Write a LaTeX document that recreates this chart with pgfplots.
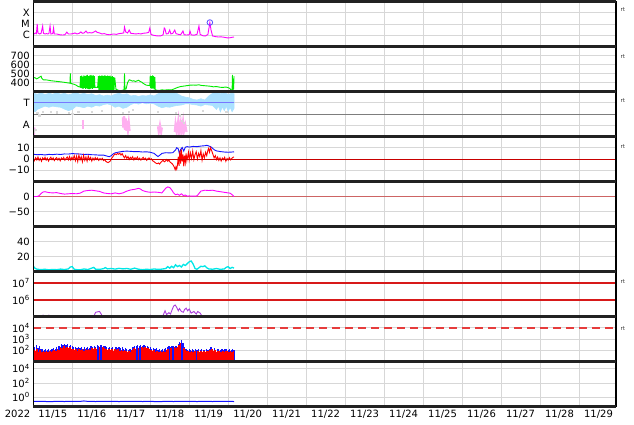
\documentclass[border=0pt]{standalone}
\usepackage{fontspec}
\setmainfont{DejaVu Sans}
\usepackage{pgfplots}
\pgfplotsset{compat=1.18}
\definecolor{cMag}{RGB}{255,0,255}
\definecolor{cGreen}{RGB}{0,235,0}
\definecolor{cBlue}{RGB}{20,20,255}
\definecolor{cRed}{RGB}{255,0,0}
\definecolor{cCyan}{RGB}{0,230,230}
\definecolor{cPurple}{RGB}{170,60,220}
\definecolor{cLB}{RGB}{170,225,255}
\definecolor{cPink}{RGB}{255,175,240}
\definecolor{cTline}{RGB}{120,120,255}
\definecolor{cDRed}{RGB}{200,0,0}
\definecolor{cRefR}{RGB}{215,25,25}
\definecolor{cDash}{RGB}{230,60,60}
\definecolor{cSep}{RGB}{125,125,125}
\definecolor{cZero}{RGB}{205,100,100}
\definecolor{cFrame}{RGB}{34,34,34}
\definecolor{cGrid}{RGB}{215,215,215}
\definecolor{cCirc}{RGB}{80,80,255}
\newcommand{\tf}{\fontsize{10}{12}\selectfont}
\newcommand{\rtf}{\fontsize{5.5}{6.5}\selectfont}
\pgfplotsset{
  panel/.style={
    scale only axis, width=582.7pt, height=45pt, anchor=south west,
    xmin=0, xmax=14.95,
    xtick={0.5,1.5,...,14.5}, xticklabels={},
    minor xtick={1,2,...,14},
    xminorgrids=true, ymajorgrids=true,
    major tick length=0pt, minor tick length=0pt,
    grid style={draw=cGrid, line width=0.6pt},
    minor grid style={draw=cGrid, line width=0.6pt},
    axis line style={draw=none},
    tick label style={font=\tf, text=black},
    after end axis/.code={
      \draw[line width=1.2pt, black] (rel axis cs:0,0) -- (rel axis cs:0,1);
      \draw[line width=1.2pt, black] (rel axis cs:1,0) -- (rel axis cs:1,1);
      \draw[line width=2.6pt, cFrame] (rel axis cs:0,0) -- (rel axis cs:1,0);
      \draw[line width=2.6pt, cFrame] (rel axis cs:0,1) -- (rel axis cs:1,1);
    },
  },
  rt/.style={after end axis/.append code={
      \node[anchor=west, inner sep=0pt, font=\rtf, text=black!80] at ([xshift=4.5pt]rel axis cs:1,#1) {rt};}},
  hline/.style 2 args={before end axis/.append code={
      \draw[#2] (rel axis cs:0,#1) -- (rel axis cs:1,#1);}},
}
\begin{document}
\begin{tikzpicture}
\useasboundingbox (0,0) rectangle (634pt,424pt);

% ---------- Panel 1: X-ray flux ----------
\begin{axis}[panel, rt=0.81, at={(33.3pt,377.5pt)}, ymode=log, ymin=1e-7, ymax=1e-3,
  ytick={1e-6,1e-5,1e-4}, yticklabels={C,M,X}]
\addplot[cMag, line width=0.9pt] coordinates {
(0.00,1.6e-6) (0.02,1.3e-6) (0.05,1.6e-6) (0.08,1.4e-6) (0.10,1.0e-5) (0.12,1.6e-6) (0.16,1.3e-6) (0.2,1.5e-6) (0.24,6.6e-6) (0.26,1.5e-6) (0.30,1.3e-6) (0.34,1.4e-6) (0.37,1.3e-6) (0.40,1.4e-6) (0.43,6.6e-6) (0.45,1.3e-6) (0.5,1.4e-6) (0.52,4.4e-6) (0.54,1.3e-6) (0.6,1.3e-6) (0.68,1.1e-6) (0.75,1.05e-6) (0.81,1.1e-6) (0.86,1.9e-6) (0.9,1.3e-6) (0.96,1.3e-6) (1.02,1.4e-6) (1.07,1.6e-6) (1.12,1.3e-6) (1.18,1.5e-6) (1.22,2.0e-6) (1.26,1.5e-6) (1.3,1.6e-6) (1.35,2.4e-6) (1.39,1.6e-6) (1.45,1.7e-6) (1.5,1.6e-6) (1.55,1.9e-6) (1.6,2.4e-6) (1.64,1.8e-6) (1.7,1.6e-6) (1.76,1.3e-6) (1.82,1.4e-6) (1.88,1.2e-6) (1.95,1.1e-6) (2.0,1.2e-6) (2.07,1.3e-6) (2.13,1.2e-6) (2.2,1.4e-6) (2.27,1.5e-6) (2.32,1.6e-6) (2.34,5.4e-6) (2.37,2.0e-6) (2.42,1.6e-6) (2.46,2.9e-6) (2.5,1.5e-6) (2.56,1.4e-6) (2.63,1.3e-6) (2.7,1.4e-6) (2.76,1.3e-6) (2.82,1.5e-6) (2.9,1.6e-6) (2.96,1.8e-6) (2.99,4.4e-6) (3.02,1.2e-6) (3.08,1.0e-6) (3.15,9e-7) (3.22,8.6e-7) (3.28,9e-7) (3.33,1.1e-6) (3.36,4.4e-6) (3.38,3.6e-6) (3.41,1.3e-6) (3.46,1.4e-6) (3.5,2.9e-6) (3.53,1.3e-6) (3.58,1.5e-6) (3.63,2.9e-6) (3.66,1.4e-6) (3.72,1.2e-6) (3.78,1.1e-6) (3.84,2.4e-6) (3.87,1.1e-6) (3.93,1.05e-6) (4.0,1.1e-6) (4.02,2.4e-6) (4.05,1.1e-6) (4.12,1.0e-6) (4.2,1.2e-6) (4.25,6.6e-6) (4.28,1.2e-6) (4.35,9e-7) (4.42,8.6e-7) (4.48,1.2e-6) (4.53,1.36e-5) (4.56,2.9e-6) (4.6,8.6e-7) (4.68,7.5e-7) (4.75,7e-7) (4.82,7.2e-7) (4.9,6.6e-7) (4.98,5.8e-7) (5.05,6e-7) (5.1,6.6e-7) (5.15,7e-7)};
\addplot[only marks, mark=o, mark size=2.8pt, cCirc, line width=0.8pt] coordinates {(4.53,1.36e-5)};
\end{axis}

% ---------- Panel 2: speed ----------
\begin{axis}[panel, rt=0.77, at={(33.3pt,332.5pt)}, ymin=300, ymax=800,
  ytick={400,500,600,700}, yticklabels={400,500,600,700}]
\addplot[cGreen, line width=0.9pt] coordinates {
(0,450) (0.04,455) (0.08,440) (0.12,448) (0.16,460) (0.2,470) (0.22,445) (0.26,430) (0.35,428) (0.45,420) (0.55,415) (0.65,410) (0.75,405) (0.85,398) (0.9,395) (0.94,392) (0.95,500) (0.96,390) (1.0,385) (1.05,380) (1.1,370) (1.15,355) (1.2,350)
(1.21,470) (1.22,340) (1.24,475) (1.25,335) (1.27,465) (1.28,330) (1.3,480) (1.31,340) (1.33,470) (1.34,330) (1.36,480) (1.37,335) (1.39,485) (1.40,330) (1.42,470) (1.43,325) (1.45,480) (1.46,330) (1.48,485) (1.49,335) (1.51,475) (1.52,330) (1.54,480) (1.55,340) (1.57,470) (1.58,345)
(1.62,347) (1.65,345)
(1.67,470) (1.68,315) (1.70,475) (1.71,310) (1.73,470) (1.74,312) (1.76,478) (1.77,310) (1.79,472) (1.80,308) (1.82,480) (1.83,310) (1.85,475) (1.86,312) (1.88,470) (1.89,310) (1.91,480) (1.92,308) (1.94,470) (1.95,310) (1.97,475) (1.98,312) (2.0,465) (2.01,310) (2.03,470) (2.04,312) (2.06,460) (2.07,315) (2.09,455)
(2.12,325) (2.16,318) (2.2,312) (2.25,310) (2.3,315) (2.33,320) (2.34,500) (2.35,325) (2.38,328) (2.42,400) (2.46,430) (2.5,425) (2.54,415) (2.58,420) (2.62,410) (2.66,418) (2.7,425) (2.74,412) (2.78,405) (2.82,390) (2.86,380) (2.9,370) (2.95,368) (2.99,365)
(3.0,475) (3.01,340) (3.03,470) (3.04,330) (3.06,478) (3.07,335) (3.09,470) (3.1,325) (3.12,460) (3.13,320)
(3.17,315) (3.22,312) (3.3,318) (3.38,316) (3.46,320) (3.55,318) (3.62,330) (3.7,345) (3.78,355) (3.86,360) (3.94,365) (4.02,370) (4.1,372) (4.18,370) (4.25,375) (4.3,368) (4.38,365) (4.46,362) (4.55,358) (4.62,352) (4.7,355) (4.78,348) (4.86,345) (4.94,350) (5.0,342) (5.04,335) (5.07,318) (5.1,315) (5.11,485) (5.12,320) (5.14,330) (5.15,470)};
\end{axis}

% ---------- Panel 3: T / A ----------
\begin{axis}[panel, rt=0.79, at={(33.3pt,287.5pt)}, ymin=-0.5, ymax=1.5,
  ytick={0,1}, yticklabels={A,T}, hline={0.5}{draw=cSep, line width=0.8pt}]
\addplot[fill=cLB, draw=cLB, line width=0.6pt] coordinates {
(0,1.42) (0.1,1.38) (0.2,1.44) (0.3,1.36) (0.4,1.42) (0.5,1.38) (0.6,1.45) (0.7,1.38) (0.8,1.42) (0.9,1.35) (1.0,1.4) (1.1,1.44) (1.2,1.38) (1.3,1.42) (1.4,1.36) (1.5,1.4) (1.6,1.32) (1.7,1.36) (1.8,1.3) (1.9,1.34) (2.0,1.3) (2.1,1.38) (2.2,1.42) (2.3,1.36) (2.4,1.4) (2.5,1.3) (2.6,1.33) (2.7,1.28) (2.8,1.32) (2.9,1.3) (3.0,1.35) (3.1,1.3) (3.2,1.4) (3.3,1.46) (3.4,1.42) (3.5,1.48) (3.6,1.44) (3.7,1.4) (3.8,1.3) (3.9,1.25) (4.0,1.22) (4.1,1.15) (4.2,1.12) (4.3,1.18) (4.4,1.12) (4.5,1.3) (4.6,1.42) (4.7,1.45) (4.8,1.4) (4.9,1.44) (5.0,1.38) (5.1,1.42) (5.15,1.4)
(5.15,0.75) (5.1,0.6) (5.05,0.8) (5.0,0.62) (4.95,0.85) (4.9,0.65) (4.85,0.82) (4.8,0.6) (4.75,0.85) (4.7,0.7) (4.6,0.88) (4.5,0.9) (4.4,0.92) (4.3,0.85) (4.2,0.9) (4.1,0.92) (4.0,0.95) (3.9,0.95) (3.8,0.9) (3.7,0.88) (3.6,0.85) (3.5,0.8) (3.4,0.82) (3.3,0.78) (3.2,0.85) (3.1,0.95) (3.0,0.98) (2.9,0.95) (2.8,1.0) (2.7,0.94) (2.6,0.98) (2.5,0.92) (2.4,0.8) (2.3,0.75) (2.2,0.85) (2.1,0.8) (2.0,0.9) (1.9,0.95) (1.8,0.92) (1.7,0.85) (1.6,0.88) (1.5,0.8) (1.4,0.85) (1.3,0.78) (1.2,0.82) (1.1,0.85) (1.0,0.7) (0.9,0.65) (0.8,0.72) (0.7,0.8) (0.6,0.82) (0.5,0.85) (0.4,0.8) (0.3,0.85) (0.2,0.78) (0.1,0.7) (0.05,0.6) (0,0.65)};
\addplot[only marks, mark=square*, mark size=0.6pt, draw=gray!30, fill=gray!30] coordinates {
(0.1,0.55) (0.15,0.45) (0.25,0.6) (0.45,0.62) (0.6,0.58) (0.9,0.55) (1.0,0.5) (1.15,0.62) (1.5,0.6) (1.75,0.65) (2.3,0.55) (2.45,0.62) (2.55,0.7) (3.2,0.6) (3.65,0.55) (3.75,0.45) (3.8,0.2) (3.85,0.1) (4.35,0.65) (4.95,0.6) (0.02,-0.3) (0.05,-0.2)};
\addplot[draw=cTline, line width=1.3pt] coordinates {(0,1) (5.15,1)};
\addplot[cPink, line width=2.2pt] coordinates {(0.0,-0.15) (0.02,-0.3) (0.03,-0.1)};
\addplot[cPink, line width=2.2pt] coordinates {(1.27,0.25) (1.27,-0.15)};
\addplot[cPink, line width=2.2pt] coordinates {(2.3,0.35) (2.31,-0.1) (2.33,0.4) (2.35,-0.2) (2.37,0.3) (2.39,-0.25) (2.41,0.2) (2.43,-0.2) (2.45,0.1) (2.47,-0.25)};
\addplot[cPink, line width=2.2pt] coordinates {(3.2,-0.05) (3.22,-0.3) (3.25,0.0) (3.28,-0.3) (3.3,-0.1)};
\addplot[cPink, line width=2.2pt] coordinates {(3.63,-0.3) (3.65,0.05) (3.68,-0.3) (3.72,0.2) (3.74,-0.3) (3.78,0.1) (3.8,-0.32) (3.84,0.15) (3.86,-0.3) (3.9,0.0) (3.93,-0.3)};
\end{axis}

% ---------- Panel 4: Bt / Bz ----------
\begin{axis}[panel, rt=0.77, at={(33.3pt,242.5pt)}, ymin=-20, ymax=20,
  ytick={-10,0,10}, yticklabels={−10,0,10}, hline={0.5}{draw=cDRed, line width=1.0pt}]
\addplot[cBlue, line width=0.9pt] coordinates {
(0,4.2) (0.1,3.8) (0.2,4.0) (0.3,3.6) (0.4,4.1) (0.5,3.9) (0.6,4.3) (0.7,4.0) (0.8,4.5) (0.9,4.4) (1.0,4.8) (1.1,4.6) (1.2,4.4) (1.3,4.0) (1.4,4.2) (1.5,3.8) (1.6,3.7) (1.7,3.4) (1.8,3.5) (1.9,2.5) (1.95,2.0) (2.0,3.0) (2.05,4.5) (2.1,5.5) (2.2,6.2) (2.3,6.8) (2.4,7.0) (2.5,6.8) (2.6,6.5) (2.7,6.6) (2.8,6.2) (2.9,6.4) (3.0,6.0) (3.1,5.0) (3.15,3.5) (3.2,2.2) (3.25,3.5) (3.3,5.0) (3.4,5.6) (3.5,5.4) (3.58,5.6) (3.65,8.0) (3.68,10.0) (3.72,9.0) (3.75,4.5) (3.78,8.5) (3.82,10.2) (3.86,7.0) (3.9,10.5) (3.95,11.0) (4.0,10.6) (4.1,11.2) (4.2,11.0) (4.3,11.5) (4.4,11.8) (4.45,12.2) (4.5,11.6) (4.55,11.0) (4.6,9.5) (4.65,8.0) (4.7,7.2) (4.8,6.6) (4.9,6.2) (5.0,6.0) (5.1,6.2) (5.15,6.4)};
\addplot[cRed, line width=0.9pt] coordinates {
(0,0.5) (0.03,-1.5) (0.06,1.2) (0.09,-0.8) (0.12,1.8) (0.15,-1.2) (0.18,0.6) (0.21,-2.0) (0.24,1.0) (0.27,-0.5) (0.3,1.5) (0.33,-1.0) (0.36,0.8) (0.39,-1.8) (0.42,0.3) (0.45,1.6) (0.48,-0.6) (0.51,1.0) (0.54,-1.4) (0.57,0.4) (0.6,1.2) (0.63,-0.9) (0.66,0.7) (0.69,-1.6) (0.72,0.9) (0.75,-0.3) (0.78,1.4) (0.81,-1.1) (0.84,0.5) (0.87,1.8) (0.9,-0.7) (0.93,2.2) (0.96,-1.0) (0.99,1.5) (1.02,-0.4) (1.05,3.0) (1.08,-1.5) (1.11,2.5) (1.14,-2.2) (1.17,3.5) (1.2,-0.8) (1.23,2.0) (1.26,-2.5) (1.29,3.2) (1.32,-1.2) (1.35,1.8) (1.38,-2.0) (1.41,2.6) (1.44,-0.6) (1.47,1.4) (1.5,-1.8) (1.53,0.8) (1.56,-1.0) (1.59,1.2) (1.62,-0.5) (1.65,0.9) (1.68,-1.2) (1.71,0.4) (1.74,-0.8) (1.77,0.6) (1.8,-1.4) (1.83,-0.5) (1.86,-2.0) (1.89,-2.8) (1.92,-3.2) (1.95,-2.5) (1.98,-1.5) (2.01,0.5) (2.04,2.0) (2.07,3.5) (2.1,4.5) (2.13,3.8) (2.16,5.0) (2.19,4.2) (2.22,5.2) (2.25,3.5) (2.28,4.8) (2.31,2.5) (2.34,1.0) (2.37,3.0) (2.4,0.5) (2.43,2.2) (2.46,-0.5) (2.49,1.5) (2.52,0.2) (2.55,2.0) (2.58,-0.8) (2.61,1.2) (2.64,0.0) (2.67,1.8) (2.7,-0.6) (2.73,0.8) (2.76,-1.0) (2.79,0.5) (2.82,1.5) (2.85,-0.4) (2.88,0.8) (2.91,-1.2) (2.94,0.3) (2.97,1.0) (3.0,-0.5) (3.03,0.2) (3.06,-1.5) (3.09,-2.2) (3.12,-3.0) (3.15,-3.8) (3.18,-4.2) (3.21,-3.5) (3.24,-4.5) (3.27,-3.0) (3.3,-2.0) (3.33,-1.0) (3.36,-2.5) (3.39,-1.8) (3.42,-0.5) (3.45,-2.0) (3.48,-1.0) (3.51,-2.8) (3.54,-3.5) (3.57,-4.5) (3.6,-6.0) (3.62,-7.5) (3.64,-9.5) (3.66,-7.0) (3.68,-9.0) (3.7,-5.0) (3.72,2.0) (3.74,-6.0) (3.76,7.5) (3.78,-4.0) (3.8,8.5) (3.82,-2.0) (3.84,4.0) (3.86,-6.5) (3.88,3.0) (3.9,-3.0) (3.92,5.0) (3.94,-1.5) (3.96,2.0) (3.98,6.0) (4.0,-1.0) (4.03,5.5) (4.06,0.5) (4.09,7.0) (4.12,-0.5) (4.15,4.0) (4.18,6.5) (4.21,0.0) (4.24,5.0) (4.27,2.0) (4.3,7.5) (4.33,-1.0) (4.36,4.5) (4.39,1.0) (4.42,6.0) (4.45,3.0) (4.48,8.0) (4.5,9.5) (4.52,6.0) (4.55,10.0) (4.58,7.0) (4.61,4.0) (4.64,1.0) (4.67,3.0) (4.7,-0.5) (4.73,1.8) (4.76,-1.2) (4.79,1.0) (4.82,-1.8) (4.85,0.8) (4.88,-0.6) (4.91,1.5) (4.94,-2.0) (4.97,0.5) (5.0,-1.0) (5.03,1.2) (5.06,-0.8) (5.09,0.5) (5.12,1.5) (5.15,1.8)};
\end{axis}

% ---------- Panel 5 ----------
\begin{axis}[panel, at={(33.3pt,197.5pt)}, ymin=-100, ymax=50,
  ytick={-50,0}, yticklabels={−50,0}]
\addplot[draw=cZero, line width=1.8pt] coordinates {(0,0) (14.95,0)};
\addplot[cMag, line width=0.9pt] coordinates {
(0,0) (0.1,0) (0.15,3) (0.2,10) (0.25,15) (0.3,16) (0.4,13) (0.5,12) (0.6,13) (0.7,10) (0.8,8) (0.9,9) (1.0,10) (1.1,9) (1.2,11) (1.3,18) (1.4,20) (1.5,21) (1.6,19) (1.7,17) (1.8,12) (1.9,10) (2.0,9) (2.1,12) (2.2,9) (2.3,12) (2.4,18) (2.5,22) (2.6,24) (2.7,27) (2.75,25) (2.8,20) (2.9,16) (3.0,14) (3.1,15) (3.2,14) (3.3,12) (3.35,20) (3.4,28) (3.45,32) (3.5,30) (3.55,22) (3.6,12) (3.65,6) (3.7,8) (3.75,4) (3.8,9) (3.85,3) (3.9,5) (3.95,1) (4.0,2) (4.1,1) (4.2,2) (4.25,10) (4.3,18) (4.4,21) (4.5,20) (4.6,21) (4.7,18) (4.8,16) (4.9,14) (5.0,12) (5.05,11) (5.1,6) (5.15,0)};
\end{axis}

% ---------- Panel 6 ----------
\begin{axis}[panel, at={(33.3pt,152.5pt)}, ymin=0, ymax=60,
  ytick={20,40}, yticklabels={20,40}]
\addplot[cCyan, line width=1.3pt] coordinates {
(0,7) (0.05,4) (0.1,3) (0.2,2.5) (0.3,3) (0.4,2.2) (0.5,2.8) (0.6,2.4) (0.7,3.2) (0.8,2.6) (0.9,3.5) (0.95,6) (1.0,6.5) (1.05,3) (1.1,2.5) (1.2,2.2) (1.3,3.4) (1.4,2.6) (1.5,4.5) (1.55,5.5) (1.6,3) (1.7,2.8) (1.8,3.8) (1.85,5.2) (1.9,3.5) (2.0,4.0) (2.1,3.2) (2.2,4.2) (2.3,3.5) (2.4,4.0) (2.5,3.0) (2.6,4.5) (2.7,3.0) (2.8,2.4) (2.9,3.0) (3.0,2.6) (3.1,3.4) (3.2,2.8) (3.3,3.2) (3.4,4.0) (3.45,6.5) (3.5,4.5) (3.55,7) (3.6,5) (3.65,9) (3.7,6.5) (3.75,8) (3.8,6) (3.85,9.5) (3.9,8) (3.95,10.5) (4.0,13) (4.05,14) (4.1,10) (4.15,4) (4.2,3) (4.25,5) (4.3,7) (4.35,6.5) (4.4,7.5) (4.45,5) (4.5,3.5) (4.6,3.0) (4.7,4.0) (4.8,2.8) (4.9,3.5) (4.95,5.5) (5.0,6.5) (5.05,4) (5.1,5.5) (5.15,4.5)};
\end{axis}

% ---------- Panel 7 ----------
\begin{axis}[panel, rt=0.77, at={(33.3pt,107.5pt)}, ymode=log, ymin=1e5, ymax=5e7,
  ytick={1e6,1e7}, yticklabels={10\textsuperscript{6},10\textsuperscript{7}}, ymajorgrids=false,
  hline={0.741}{draw=cRefR, line width=1.5pt}, hline={0.3705}{draw=cRefR, line width=1.5pt}]
\addplot[cPurple, line width=0.9pt] coordinates {
(0,7e4) (0.2,8e4) (0.25,1.2e5) (0.3,8e4) (0.4,1.2e5) (0.45,8e4) (0.7,7e4) (1.0,6e4) (1.4,7e4) (1.55,1.0e5) (1.6,1.8e5) (1.7,2.0e5) (1.75,1.3e5) (1.8,8e4) (2.2,6e4) (2.6,7e4) (2.95,9e4) (3.0,1.2e5) (3.05,9e4) (3.3,8e4) (3.35,1.5e5) (3.38,2.2e5) (3.42,1.3e5) (3.48,1.7e5) (3.52,1.4e5) (3.56,2.5e5) (3.6,4.2e5) (3.64,4.9e5) (3.68,3.5e5) (3.72,2.2e5) (3.75,3.0e5) (3.8,2.0e5) (3.85,1.8e5) (3.88,2.6e5) (3.92,3.2e5) (3.96,2.2e5) (4.0,2.8e5) (4.05,1.6e5) (4.12,2.0e5) (4.18,1.4e5) (4.22,2.0e5) (4.28,1.6e5) (4.35,9e4) (4.45,1.1e5) (4.55,8e4) (4.7,7e4) (4.85,1.05e5) (4.9,8e4) (5.0,1.05e5) (5.1,8e4) (5.15,7e4)};
\end{axis}

% ---------- Panel 8 ----------
\begin{axis}[panel, rt=0.74, at={(33.3pt,62.5pt)}, ymode=log, ymin=10, ymax=1e5,
  ytick={1e2,1e3,1e4}, yticklabels={10\textsuperscript{2},10\textsuperscript{3},10\textsuperscript{4}},
  hline={0.75}{draw=cDash, line width=1.6pt, dash pattern=on 8pt off 5pt}]
\addplot[cBlue, ycomb, line width=1.2pt] coordinates {
(0.00,250) (0.04,180) (0.08,280) (0.12,160) (0.16,220) (0.20,120) (0.24,140) (0.28,100) (0.32,130) (0.36,110) (0.40,140) (0.44,105) (0.48,125) (0.52,150) (0.56,120) (0.60,200) (0.64,260) (0.68,220) (0.72,330) (0.76,280) (0.80,380) (0.84,300) (0.88,350) (0.92,260) (0.96,300) (1.00,220) (1.04,180) (1.08,200) (1.12,150) (1.16,190) (1.20,160) (1.24,200) (1.28,140) (1.32,180) (1.36,150) (1.40,190) (1.44,170) (1.48,220) (1.52,180) (1.56,250) (1.60,210) (1.64,280) (1.68,240) (1.72,320) (1.76,300) (1.80,260) (1.84,220) (1.88,190) (1.92,170) (1.96,200) (2.00,150) (2.04,180) (2.08,140) (2.12,200) (2.16,160) (2.20,190) (2.24,150) (2.28,180) (2.32,140) (2.36,170) (2.40,120) (2.44,110) (2.48,130) (2.52,105) (2.56,180) (2.60,250) (2.64,220) (2.68,280) (2.72,240) (2.76,270) (2.80,230) (2.84,280) (2.88,240) (2.92,260) (2.96,210) (3.00,180) (3.04,140) (3.08,170) (3.12,120) (3.16,150) (3.20,110) (3.24,140) (3.28,100) (3.32,130) (3.36,120) (3.40,160) (3.44,180) (3.48,230) (3.52,200) (3.56,250) (3.60,220) (3.64,240) (3.68,260) (3.72,350) (3.76,500) (3.80,800) (3.84,450) (3.88,200) (3.92,140) (3.96,110) (4.00,130) (4.04,100) (4.08,140) (4.12,110) (4.16,130) (4.20,100) (4.24,120) (4.28,105) (4.32,140) (4.36,115) (4.40,100) (4.44,125) (4.48,110) (4.52,140) (4.56,200) (4.60,130) (4.64,150) (4.68,110) (4.72,140) (4.76,120) (4.80,100) (4.84,130) (4.88,110) (4.92,140) (4.96,120) (5.00,105) (5.04,130) (5.08,115) (5.12,125) (5.15,110)};
\addplot[cRed, ycomb, line width=1.7pt] coordinates {
(0.02,110) (0.06,80) (0.10,120) (0.14,70) (0.18,100) (0.22,75) (0.26,90) (0.30,65) (0.34,85) (0.38,70) (0.42,95) (0.46,75) (0.50,90) (0.54,100) (0.58,80) (0.62,140) (0.66,110) (0.70,180) (0.74,150) (0.78,220) (0.82,170) (0.86,210) (0.90,160) (0.94,190) (0.98,140) (1.02,120) (1.06,100) (1.10,130) (1.14,90) (1.18,120) (1.22,100) (1.26,140) (1.30,95) (1.34,120) (1.38,100) (1.42,130) (1.46,110) (1.50,150) (1.54,120) (1.58,170) (1.62,140) (1.66,8) (1.70,190) (1.74,8) (1.78,200) (1.82,160) (1.86,130) (1.90,110) (1.94,140) (1.98,100) (2.02,120) (2.06,90) (2.10,130) (2.14,100) (2.18,120) (2.22,95) (2.26,115) (2.30,90) (2.34,110) (2.38,80) (2.42,70) (2.46,85) (2.50,65) (2.54,100) (2.58,150) (2.62,130) (2.66,8) (2.70,160) (2.74,8) (2.78,180) (2.82,150) (2.86,190) (2.90,160) (2.94,170) (2.98,130) (3.02,110) (3.06,90) (3.10,100) (3.14,75) (3.18,95) (3.22,70) (3.26,85) (3.30,65) (3.34,80) (3.38,75) (3.42,100) (3.46,130) (3.50,8) (3.54,170) (3.58,8) (3.62,190) (3.66,170) (3.70,210) (3.74,300) (3.78,400) (3.82,8) (3.86,150) (3.90,100) (3.94,80) (3.98,90) (4.02,70) (4.06,95) (4.10,75) (4.14,85) (4.18,8) (4.22,80) (4.26,70) (4.30,90) (4.34,75) (4.38,85) (4.42,70) (4.46,90) (4.50,80) (4.54,100) (4.58,140) (4.62,90) (4.66,100) (4.70,75) (4.74,95) (4.78,80) (4.82,70) (4.86,90) (4.90,75) (4.94,95) (4.98,80) (5.02,70) (5.06,90) (5.10,75) (5.14,85)};
\end{axis}

% ---------- Panel 9 ----------
\begin{axis}[panel, at={(33.3pt,17.5pt)}, ymode=log, ymin=0.05, ymax=1e5,
  ytick={1,1e2,1e4}, yticklabels={10\textsuperscript{0},10\textsuperscript{2},10\textsuperscript{4}},
  xticklabels={11/15,11/16,11/17,11/18,11/19,11/20,11/21,11/22,11/23,11/24,11/25,11/26,11/27,11/28,11/29},
  after end axis/.append code={\node[anchor=north, font=\tf] at (rel axis cs:-0.0271,0) {2022};}]
\addplot[cBlue, line width=1.0pt] coordinates {
(0,0.25) (0.2,0.27) (0.4,0.24) (0.6,0.26) (0.8,0.25) (1.0,0.27) (1.2,0.26) (1.3,0.3) (1.4,0.26) (1.6,0.25) (1.8,0.27) (2.0,0.26) (2.2,0.25) (2.4,0.26) (2.6,0.27) (2.8,0.25) (3.0,0.26) (3.2,0.24) (3.4,0.26) (3.6,0.25) (3.8,0.27) (4.0,0.26) (4.2,0.25) (4.4,0.26) (4.6,0.25) (4.8,0.27) (5.0,0.26) (5.15,0.25)};
\end{axis}
\end{tikzpicture}
\end{document}
